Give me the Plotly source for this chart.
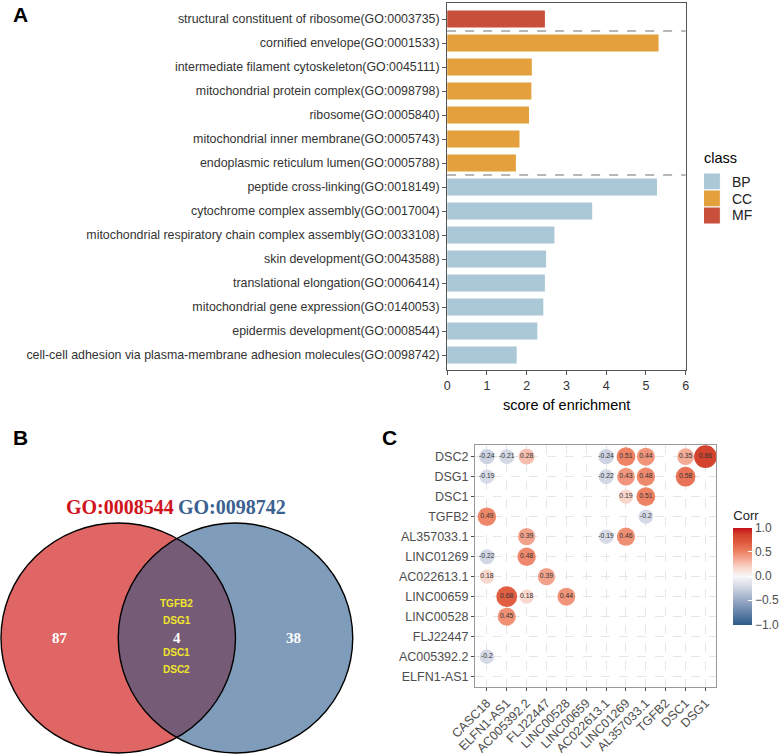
import numpy as np
import plotly.graph_objects as go

W, H = 784, 754

# ---------------- Panel A data ----------------
go_terms = [
    "structural constituent of ribosome(GO:0003735)",
    "cornified envelope(GO:0001533)",
    "intermediate filament cytoskeleton(GO:0045111)",
    "mitochondrial protein complex(GO:0098798)",
    "ribosome(GO:0005840)",
    "mitochondrial inner membrane(GO:0005743)",
    "endoplasmic reticulum lumen(GO:0005788)",
    "peptide cross-linking(GO:0018149)",
    "cytochrome complex assembly(GO:0017004)",
    "mitochondrial respiratory chain complex assembly(GO:0033108)",
    "skin development(GO:0043588)",
    "translational elongation(GO:0006414)",
    "mitochondrial gene expression(GO:0140053)",
    "epidermis development(GO:0008544)",
    "cell-cell adhesion via plasma-membrane adhesion molecules(GO:0098742)",
]
go_scores = [2.46, 5.32, 2.13, 2.12, 2.06, 1.82, 1.73,
             5.28, 3.65, 2.70, 2.49, 2.46, 2.42, 2.27, 1.75]
go_class = ["MF", "CC", "CC", "CC", "CC", "CC", "CC",
            "BP", "BP", "BP", "BP", "BP", "BP", "BP", "BP"]
class_names = ["BP", "CC", "MF"]
class_colors = {"BP": "#AAC8D5", "CC": "#E3A03C", "MF": "#C8503A"}
x_ticks_a = [0, 1, 2, 3, 4, 5, 6]

# ---------------- Panel B data ----------------
venn_sets = ["GO:0008544", "GO:0098742"]
venn_counts = [87, 4, 38]
venn_genes = ["TGFB2", "DSG1", "DSC1", "DSC2"]

# ---------------- Panel C data ----------------
corr_row_labels = ["ELFN1-AS1", "AC005392.2", "FLJ22447", "LINC00528", "LINC00659",
                   "AC022613.1", "LINC01269", "AL357033.1", "TGFB2", "DSC1", "DSG1", "DSC2"]
corr_col_labels = ["CASC18", "ELFN1-AS1", "AC005392.2", "FLJ22447", "LINC00528", "LINC00659",
                   "AC022613.1", "LINC01269", "AL357033.1", "TGFB2", "DSC1", "DSG1"]
corr_rows = ["DSC2", "DSC2", "DSC2", "DSC2", "DSC2", "DSC2", "DSC2", "DSC2",
             "DSG1", "DSG1", "DSG1", "DSG1", "DSG1",
             "DSC1", "DSC1",
             "TGFB2", "TGFB2",
             "AL357033.1", "AL357033.1", "AL357033.1",
             "LINC01269", "LINC01269",
             "AC022613.1", "AC022613.1",
             "LINC00659", "LINC00659", "LINC00659",
             "LINC00528",
             "AC005392.2"]
corr_cols = ["CASC18", "ELFN1-AS1", "AC005392.2", "AC022613.1", "LINC01269", "AL357033.1", "DSC1", "DSG1",
             "CASC18", "AC022613.1", "LINC01269", "AL357033.1", "DSC1",
             "LINC01269", "AL357033.1",
             "CASC18", "AL357033.1",
             "AC005392.2", "AC022613.1", "LINC01269",
             "CASC18", "AC005392.2",
             "CASC18", "FLJ22447",
             "ELFN1-AS1", "AC005392.2", "LINC00528",
             "ELFN1-AS1",
             "CASC18"]
corr_values = [-0.24, -0.21, 0.28, -0.24, 0.51, 0.44, 0.35, 0.86,
               -0.19, -0.22, 0.43, 0.48, 0.58,
               0.19, 0.51,
               0.49, -0.2,
               0.39, -0.19, 0.46,
               -0.22, 0.48,
               0.18, 0.39,
               0.68, 0.18, 0.44,
               0.45,
               -0.2]
cbar_ticks = [-1.0, -0.5, 0.0, 0.5, 1.0]
cbar_ticktext = ["\u22121.0", "\u22120.5", "0.0", "0.5", "1.0"]


def px(v):
    return v / W


def py(v):
    return 1 - v / H


fig = go.Figure()
shapes = []
annotations = []

# ---------------- Panel A ----------------
for cname in class_names:
    xs = [s for s, c in zip(go_scores, go_class) if c == cname]
    ys = [t for t, c in zip(go_terms, go_class) if c == cname]
    fig.add_trace(go.Bar(
        x=xs, y=ys, orientation="h", width=0.7, name=cname,
        marker=dict(color=class_colors[cname], line=dict(width=0)),
        showlegend=False, xaxis="x", yaxis="y", hoverinfo="x+y",
    ))

# separators between classes
for i in range(1, len(go_class)):
    if go_class[i] != go_class[i - 1]:
        shapes.append(dict(type="line", xref="x domain", yref="y", x0=0, x1=1, y0=i - 0.5, y1=i - 0.5,
                           line=dict(color="#707070", width=1.2, dash="dash"), layer="above"))

# legend for class (drawn manually: title, swatches, labels)
leg_x, leg_top, sw = 708, 173, 17
annotations.append(dict(x=px(leg_x - 1), y=py(158), xref="paper", yref="paper", text="class",
                        showarrow=False, xanchor="left", yanchor="middle",
                        font=dict(size=14.5, color="black")))
for k, cname in enumerate(class_names):
    y0 = leg_top + k * sw
    shapes.append(dict(type="rect", xref="paper", yref="paper", x0=px(leg_x), x1=px(leg_x + sw),
                       y0=py(y0 + sw), y1=py(y0), fillcolor=class_colors[cname],
                       line=dict(width=1, color="white")))
    annotations.append(dict(x=px(735), y=py(y0 + sw / 2), xref="paper", yref="paper", text=cname,
                            showarrow=False, xanchor="left", yanchor="middle",
                            font=dict(size=14, color="#222222")))

# ---------------- Panel C ----------------
corr_sizes = [float(np.sqrt(120 + 460 * abs(v))) for v in corr_values]
corr_text = [f"{v:g}" for v in corr_values]
corr_colorscale = [[0.0, "#2B5A8A"], [0.25, "#98A9C5"], [0.4, "#D5DAE6"], [0.5, "#F7F7F7"],
                   [0.6, "#F9D3C8"], [0.75, "#EE8466"], [0.85, "#DE5A3E"], [0.93, "#D3432D"],
                   [1.0, "#C8101A"]]
fig.add_trace(go.Scatter(
    x=corr_cols, y=corr_rows, mode="markers+text", xaxis="x2", yaxis="y2",
    text=corr_text, textposition="middle center",
    textfont=dict(size=6.8, color="#333333", family="Liberation Sans"),
    marker=dict(size=corr_sizes, color=corr_values, cmin=-1, cmax=1,
                colorscale=corr_colorscale,
                line=dict(width=0), opacity=1,
                colorbar=dict(
                    title=dict(text="Corr", side="top", font=dict(size=13, color="#222222")),
                    tickvals=cbar_ticks, ticktext=cbar_ticktext,
                    tickfont=dict(size=12, color="#4D4D4D"),
                    thickness=19, lenmode="fraction", len=117 / H,
                    x=px(738), xanchor="left", xpad=0,
                    y=py(566), yanchor="middle", ypad=0,
                    outlinewidth=0, ticks="inside", ticklen=4, tickcolor="white",
                )),
    showlegend=False,
))

# ---------------- Panel B (Venn) ----------------
rx, ry = 118, 115
cxa, cxb, cy = 119, 237, 638
shapes.append(dict(type="circle", xref="x3", yref="y3", x0=cxa - rx, x1=cxa + rx, y0=cy - ry, y1=cy + ry,
                   fillcolor="#E06565", line=dict(width=0), layer="below"))
shapes.append(dict(type="circle", xref="x3", yref="y3", x0=cxb - rx, x1=cxb + rx, y0=cy - ry, y1=cy + ry,
                   fillcolor="#7F9CBA", line=dict(width=0), layer="below"))
# lens (intersection) polygon
d = (cxb - cxa) / rx
a0 = np.arccos(d / 2)
t1 = np.linspace(-a0, a0, 80)
t2 = np.linspace(np.pi - a0, np.pi + a0, 80)
lx = np.concatenate([cxa + rx * np.cos(t1), cxb + rx * np.cos(t2)])
ly = np.concatenate([cy + ry * np.sin(t1), cy + ry * np.sin(t2)])
fig.add_trace(go.Scatter(x=lx, y=ly, mode="lines", fill="toself", fillcolor="#765B77",
                         line=dict(width=0), xaxis="x3", yaxis="y3", showlegend=False,
                         hoverinfo="skip"))
for cx in (cxa, cxb):
    shapes.append(dict(type="circle", xref="x3", yref="y3", x0=cx - rx, x1=cx + rx, y0=cy - ry, y1=cy + ry,
                       fillcolor="rgba(0,0,0,0)", line=dict(width=1.4, color="black"), layer="above"))

serif = "Liberation Serif"
annotations.append(dict(x=121, y=507, xref="x3", yref="y3", text=f"<b>{venn_sets[0]}</b>", showarrow=False,
                        font=dict(family=serif, size=20, color="#D0141B")))
annotations.append(dict(x=233, y=507, xref="x3", yref="y3", text=f"<b>{venn_sets[1]}</b>", showarrow=False,
                        font=dict(family=serif, size=20, color="#3B6190")))
for xv, cnt in zip([60, 178, 295], venn_counts):
    annotations.append(dict(x=xv, y=638, xref="x3", yref="y3", text=f"<b>{cnt}</b>", showarrow=False,
                            font=dict(family=serif, size=15, color="white")))
for yv, g in zip([603, 620, 652, 669], venn_genes):
    annotations.append(dict(x=178, y=yv, xref="x3", yref="y3", text=f"<b>{g}</b>", showarrow=False,
                            font=dict(family="Liberation Sans", size=10, color="#F0E62A")))

# panel labels
for lab, xx, yy in [("A", 21, 14), ("B", 21, 437), ("C", 392, 437)]:
    annotations.append(dict(x=px(xx), y=py(yy), xref="paper", yref="paper", text=f"<b>{lab}</b>",
                            showarrow=False, font=dict(family="Liberation Sans", size=21, color="black"),
                            xanchor="center", yanchor="middle"))
# x-axis title panel A
annotations.append(dict(x=px(570), y=py(405), xref="paper", yref="paper", text="score of enrichment",
                        showarrow=False, font=dict(family="Liberation Sans", size=14.5, color="black"),
                        xanchor="center", yanchor="middle"))

axis_gray = "#4D4D4D"
fig.update_layout(
    width=W, height=H, margin=dict(l=0, r=0, t=0, b=0),
    paper_bgcolor="white", plot_bgcolor="white",
    font=dict(family="Liberation Sans", color="#333333"),
    barmode="overlay", showlegend=False,
    xaxis=dict(domain=[px(450), px(690)], range=[0, 6], tickvals=x_ticks_a,
               showgrid=False, zeroline=False, showline=True, mirror=True, linecolor="#555555", linewidth=1,
               ticks="outside", ticklen=4, tickcolor="#555555", tickfont=dict(size=12.5, color="#333333"),
               anchor="y", automargin=False, fixedrange=True),
    yaxis=dict(domain=[py(370), py(3)], type="category", categoryorder="array", categoryarray=go_terms,
               range=[len(go_terms) - 1 + 0.625, -0.667],
               showgrid=False, zeroline=False, showline=True, mirror=True, linecolor="#555555", linewidth=1,
               ticks="outside", ticklen=4, tickcolor="#555555", tickfont=dict(size=12.4, color="#333333"),
               anchor="x", automargin=False, fixedrange=True),
    xaxis2=dict(domain=[px(478), px(721)], type="category", categoryorder="array",
                categoryarray=corr_col_labels, range=[-0.6, 11.55],
                showgrid=True, gridcolor="#E6E6E6", griddash="dash", gridwidth=1,
                zeroline=False, showline=True, mirror=True, linecolor="#999999", linewidth=1,
                ticks="outside", ticklen=3, tickcolor=axis_gray, tickangle=-45,
                tickfont=dict(size=12.5, color=axis_gray), anchor="y2", automargin=False),
    yaxis2=dict(domain=[py(687), py(445)], type="category", categoryorder="array",
                categoryarray=corr_row_labels, range=[-0.515, 11.585],
                showgrid=True, gridcolor="#E6E6E6", griddash="dash", gridwidth=1,
                zeroline=False, showline=True, mirror=True, linecolor="#999999", linewidth=1,
                ticks="outside", ticklen=3, tickcolor=axis_gray,
                tickfont=dict(size=12.5, color=axis_gray), anchor="x2", automargin=False),
    xaxis3=dict(domain=[0, px(360)], range=[0, 360], visible=False, anchor="y3"),
    yaxis3=dict(domain=[0, py(500)], range=[754, 500], visible=False, anchor="x3"),
    shapes=shapes,
    annotations=annotations,
)

fig.write_html("out.html", config={"displayModeBar": False},
               post_script="document.body.style.margin='0';document.body.style.overflow='hidden';")
